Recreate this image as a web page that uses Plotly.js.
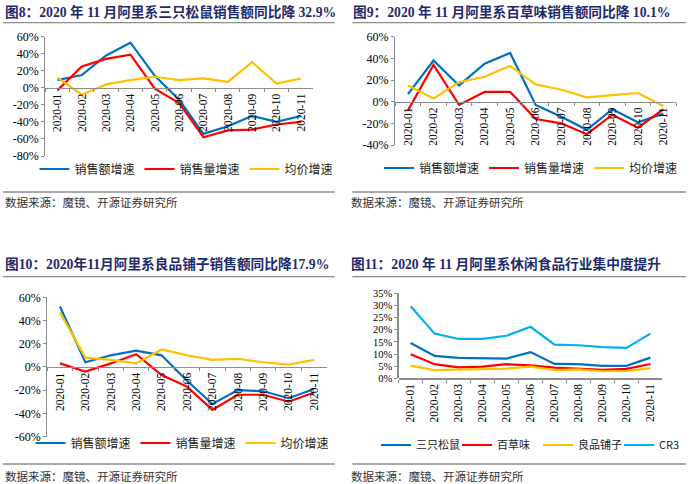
<!DOCTYPE html>
<html>
<head>
<meta charset="utf-8">
<script src="https://cdn.plot.ly/plotly-3.0.1.min.js"></script>
<style>html,body{margin:0;padding:0;background:#fff;}#chart{width:700px;height:484px;}</style>
</head>
<body>
<div id="chart"></div>
<script>
// ---- data ----
var months = ["2020-01","2020-02","2020-03","2020-04","2020-05","2020-06","2020-07","2020-08","2020-09","2020-10","2020-11"];

// 图8 三只松鼠 (%)
var sq_sales  = [9, 15, 38, 53, 14, -14, -54, -45, -33, -40, -33];
var sq_volume = [-3, 25, 34, 39, -1, -18, -58, -50, -49, -43, -40];
var sq_price  = [12, -8, 4, 9, 13, 9, 11, 7, 30, 5, 11];

// 图9 百草味 (%)
var bc_sales  = [7, 38, 15, 35, 45, -3, -14, -26, -7, -19, -11];
var bc_volume = [-8, 34, -3, 9, 9, -16, -20, -30, -12, -24, -7];
var bc_price  = [15, 3, 18, 23, 33, 16, 11, 4, 6, 8, -4];

// 图10 良品铺子 (%)
var lp_sales  = [52, 4, 10, 14, 10, -12, -32, -20, -21, -27, -19];
var lp_volume = [3, -4, 3, 11, -7, -17, -37, -24, -24, -30, -22];
var lp_price  = [47, 8, 6, 3, 15, 10, 6, 7, 4, 2, 6];

// 图11 市场份额 (%)
var share_sq  = [14.5, 9.2, 8.4, 8.4, 8.1, 10.8, 5.9, 5.8, 5.1, 5.1, 8.5];
var share_bc  = [9.9, 5.8, 4.5, 4.8, 5.8, 5.3, 4.4, 4.1, 3.5, 3.9, 5.9];
var share_lp  = [5.2, 3.4, 3.6, 3.7, 4.0, 4.8, 3.4, 3.7, 2.9, 3.0, 4.2];
var share_cr3 = [29.7, 18.4, 16.2, 16.2, 17.5, 21.2, 13.9, 13.6, 12.8, 12.5, 18.4];

var seriesNames = ["销售额增速","销售量增速","均价增速"];
var shareNames = ["三只松鼠","百草味","良品铺子","CR3"];

var titles = [
  "图8：2020 年 11 月阿里系三只松鼠销售额同比降 32.9%",
  "图9：2020 年 11 月阿里系百草味销售额同比降 10.1%",
  "图10：2020年11月阿里系良品铺子销售额同比降17.9%",
  "图11：2020 年 11 月阿里系休闲食品行业集中度提升"
];
var sourceText = "数据来源：魔镜、开源证券研究所";

var ticks1 = [-80,-60,-40,-20,0,20,40,60];
var ticks2 = [-40,-20,0,20,40,60];
var ticks3 = [-60,-40,-20,0,20,40,60];
var ticks4 = [0,5,10,15,20,25,30,35];

// ---- styling ----
var W = 700, H = 484;
function px(x){return x/W;}
function py(y){return 1 - y/H;}
var BLUE = "#0070C0", RED = "#FF0000", YEL = "#FFC000", CYAN = "#00B0F0";
var numFont = "Liberation Serif, Times New Roman, serif";
var cjkFont = "Liberation Serif, Noto Sans CJK SC, serif";

function pctLabels(arr){ return arr.map(function(v){ return (v<0?"-":"") + Math.abs(v) + "%"; }); }

function line(y, name, color, xa, ya, legend){
  return {x: months, y: y, name: name, type: "scatter", mode: "lines",
    line: {color: color, width: 2.2}, xaxis: xa, yaxis: ya, legend: legend, hoverinfo: "skip"};
}

var data = [
  line(sq_sales, seriesNames[0], BLUE, "x", "y", "legend"),
  line(sq_volume, seriesNames[1], RED, "x", "y", "legend"),
  line(sq_price, seriesNames[2], YEL, "x", "y", "legend"),
  line(bc_sales, seriesNames[0], BLUE, "x2", "y2", "legend2"),
  line(bc_volume, seriesNames[1], RED, "x2", "y2", "legend2"),
  line(bc_price, seriesNames[2], YEL, "x2", "y2", "legend2"),
  line(lp_sales, seriesNames[0], BLUE, "x3", "y3", "legend3"),
  line(lp_volume, seriesNames[1], RED, "x3", "y3", "legend3"),
  line(lp_price, seriesNames[2], YEL, "x3", "y3", "legend3"),
  line(share_sq, shareNames[0], BLUE, "x4", "y4", "legend4"),
  line(share_bc, shareNames[1], RED, "x4", "y4", "legend4"),
  line(share_lp, shareNames[2], YEL, "x4", "y4", "legend4"),
  line(share_cr3, shareNames[3], CYAN, "x4", "y4", "legend4")
];

function xaxis(domain, position){
  return {domain: domain, anchor: "free", position: position, type: "category",
    range: [-0.5, 10.5], showgrid: false, zeroline: false, showline: true,
    linecolor: "#8c8c8c", linewidth: 1.2, ticks: "outside", ticklen: 3, tickcolor: "#8c8c8c",
    tickson: "boundaries", tickangle: -90, tickfont: {family: numFont, size: 11.5, color: "#000"},
    fixedrange: true};
}
function yaxis(domain, xref, range, tv, fs){
  return {domain: domain, anchor: xref, range: range, showgrid: false, zeroline: false,
    showline: true, linecolor: "#8c8c8c", linewidth: 1.2, ticks: "outside", ticklen: 3,
    tickcolor: "#8c8c8c", tickmode: "array", tickvals: tv, ticktext: pctLabels(tv),
    tickfont: {family: numFont, size: fs, color: "#000"}, fixedrange: true};
}

// panel geometry (pixels)
var p1 = {x0: 46, x1: 318, yt: 36.7, yb: 156, r: [-80, 60]};
var p2 = {x0: 401.5, x1: 687, yt: 36.7, yb: 145, r: [-40, 60]};
var p3 = {x0: 48, x1: 332, yt: 297.3, yb: 436.5, r: [-60, 60]};
var p4 = {x0: 405, x1: 673, yt: 293.3, yb: 378.3, r: [0, 35]};
function dx(p){return [px(p.x0), px(p.x1)];}
function dy(p){return [py(p.yb), py(p.yt)];}
function zeroPos(p){ var f = (0 - p.r[0])/(p.r[1]-p.r[0]); return py(p.yb) + f*(py(p.yt)-py(p.yb)); }

function legendAt(xPix, yPix, fs, ew){
  var lg = {orientation: "h", x: px(xPix), y: py(yPix), xanchor: "left", yanchor: "middle",
    font: {family: "Noto Sans CJK SC, sans-serif", size: fs, color: "#222"},
    bgcolor: "rgba(0,0,0,0)", itemwidth: 30, tracegroupgap: 0, itemclick: false, itemdoubleclick: false};
  if (ew) { lg.entrywidth = ew; lg.entrywidthmode = "pixels"; }
  return lg;
}

function titleAnn(text, xPix, yPix){
  return {text: "<b>" + text + "</b>", xref: "paper", yref: "paper", x: px(xPix), y: py(yPix),
    xanchor: "left", yanchor: "middle", showarrow: false,
    font: {family: cjkFont, size: 13.7, color: "#1F2A6B"}};
}
function srcAnn(xPix, yPix){
  return {text: sourceText, xref: "paper", yref: "paper", x: px(xPix), y: py(yPix),
    xanchor: "left", yanchor: "middle", showarrow: false,
    font: {family: "Noto Sans CJK SC, sans-serif", size: 11.5, color: "#333"}};
}
function hline(x0, x1, y){
  return {type: "line", xref: "paper", yref: "paper", x0: px(x0), x1: px(x1), y0: py(y), y1: py(y),
    line: {color: "#8c8c8c", width: 1.3}};
}

var layout = {
  width: W, height: H, margin: {l: 0, r: 0, t: 0, b: 0},
  paper_bgcolor: "#fff", plot_bgcolor: "rgba(0,0,0,0)", showlegend: true,
  xaxis: xaxis(dx(p1), zeroPos(p1)),
  yaxis: yaxis(dy(p1), "x", p1.r, ticks1, 12),
  xaxis2: xaxis(dx(p2), zeroPos(p2)),
  yaxis2: yaxis(dy(p2), "x2", p2.r, ticks2, 12),
  xaxis3: xaxis(dx(p3), zeroPos(p3)),
  yaxis3: yaxis(dy(p3), "x3", p3.r, ticks3, 12),
  xaxis4: xaxis(dx(p4), zeroPos(p4)),
  yaxis4: yaxis(dy(p4), "x4", p4.r, ticks4, 10.5),
  legend: legendAt(35, 169, 12),
  legend2: legendAt(385, 168, 12),
  legend3: legendAt(31, 443, 12),
  legend4: legendAt(382, 445, 11, 36),
  annotations: [
    titleAnn(titles[0], 3, 12), titleAnn(titles[1], 357, 12),
    titleAnn(titles[2], 3, 264), titleAnn(titles[3], 355, 264),
    srcAnn(3, 202), srcAnn(355, 202), srcAnn(3, 476), srcAnn(355, 476)
  ],
  shapes: [
    hline(3, 340, 22.7), hline(358, 697, 22.7),
    hline(3, 340, 192), hline(358, 697, 192),
    hline(3, 340, 276.7), hline(358, 697, 276.7),
    hline(3, 340, 464), hline(358, 697, 464)
  ]
};

Plotly.newPlot("chart", data, layout, {displayModeBar: false, staticPlot: true});
</script>
</body>
</html>
